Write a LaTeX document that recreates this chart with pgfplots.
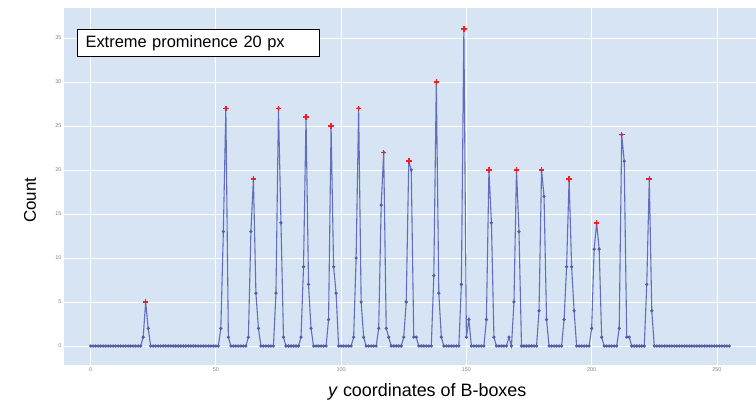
\documentclass[border=0pt]{standalone}
\usepackage{fontspec}
\setmainfont{Liberation Sans}
\usepackage{pgfplots}
\usepackage{pgfplotstable}
\pgfplotsset{compat=1.18}

\definecolor{plotbg}{RGB}{214,228,243}
\definecolor{trace}{RGB}{98,110,190}
\definecolor{peak}{RGB}{245,30,40}
\definecolor{ticklab}{RGB}{130,130,130}

% counts per y coordinate, 0..255
\pgfplotstableread[row sep=\\, header=false]{
0\\0\\0\\0\\0\\0\\0\\0\\0\\0\\0\\0\\0\\0\\0\\0\\
0\\0\\0\\0\\0\\1\\5\\2\\0\\0\\0\\0\\0\\0\\0\\0\\
0\\0\\0\\0\\0\\0\\0\\0\\0\\0\\0\\0\\0\\0\\0\\0\\
0\\0\\0\\0\\2\\13\\27\\1\\0\\0\\0\\0\\0\\0\\0\\1\\
13\\19\\6\\2\\0\\0\\0\\0\\0\\0\\6\\27\\14\\1\\0\\0\\
0\\0\\0\\0\\1\\9\\26\\7\\2\\0\\0\\0\\0\\0\\0\\3\\
25\\9\\6\\0\\0\\0\\0\\0\\0\\1\\10\\27\\5\\1\\0\\0\\
0\\0\\0\\2\\16\\22\\2\\1\\0\\0\\0\\0\\0\\1\\5\\21\\
20\\1\\1\\0\\0\\0\\0\\0\\0\\8\\30\\6\\1\\0\\0\\0\\
0\\0\\0\\0\\7\\36\\1\\3\\0\\0\\0\\0\\0\\0\\3\\20\\
14\\1\\0\\0\\0\\0\\0\\1\\0\\5\\20\\13\\0\\0\\0\\0\\
0\\0\\0\\4\\20\\17\\3\\0\\0\\0\\0\\0\\0\\3\\9\\19\\
9\\4\\0\\0\\0\\0\\0\\0\\2\\11\\14\\11\\1\\0\\0\\0\\
0\\0\\0\\2\\24\\21\\1\\1\\0\\0\\0\\0\\0\\0\\7\\19\\
4\\0\\0\\0\\0\\0\\0\\0\\0\\0\\0\\0\\0\\0\\0\\0\\
0\\0\\0\\0\\0\\0\\0\\0\\0\\0\\0\\0\\0\\0\\0\\0\\
}\counts

\begin{document}
\begin{tikzpicture}
\useasboundingbox (-64bp,-45bp) rectangle (692bp,365bp);
\begin{axis}[
    at={(0,0)}, anchor=south west,
    scale only axis,
    width=692bp, height=357bp,
    xmin=-10.6, xmax=265.6,
    ymin=-2.16, ymax=38.4,
    xtick={0,50,...,250},
    ytick={0,5,...,35},
    grid=major,
    major grid style={white, line width=0.8bp},
    axis background/.style={fill=plotbg},
    axis line style={draw=none},
    major tick length=0pt,
    tick label style={font=\fontsize{5.5}{6}\selectfont, text=ticklab},
    xticklabel style={yshift=1bp},
    yticklabel style={xshift=1bp},
    /pgf/number format/assume math mode=true,
    xlabel={\textit{y} coordinates of B-boxes},
    ylabel={Count},
    xlabel style={at={(axis description cs:0.525,0)}, anchor=center, yshift=-27bp,
        font=\fontsize{18}{20}\selectfont},
    ylabel style={at={(axis description cs:-0.049,0.462)}, anchor=center,
        font=\fontsize{17}{19}\selectfont},
  ]
  \addplot[trace, line width=1.1bp, mark=*, mark size=1bp,
      mark options={fill=trace!85!black, draw=trace!85!black}]
    table[x expr=\coordindex, y index=0] {\counts};
  \addplot[only marks, peak, mark=+, mark size=2.8bp, line width=1.5bp]
    coordinates {
      (22,5) (54,27) (65,19) (75,27) (86,26) (96,25) (107,27) (117,22)
      (127,21) (138,30) (149,36) (159,20) (170,20) (180,20) (191,19)
      (202,14) (212,24) (223,19)
    };
  \node[draw=black, line width=1.1bp, fill=white, anchor=north west,
        minimum width=242bp, minimum height=27bp, text width=226bp,
        inner xsep=8bp, align=left, font=\fontsize{16.5}{18}\selectfont]
    at (rel axis cs:0.0188,0.941) {Extreme prominence 20 px};
\end{axis}
\end{tikzpicture}
\end{document}
